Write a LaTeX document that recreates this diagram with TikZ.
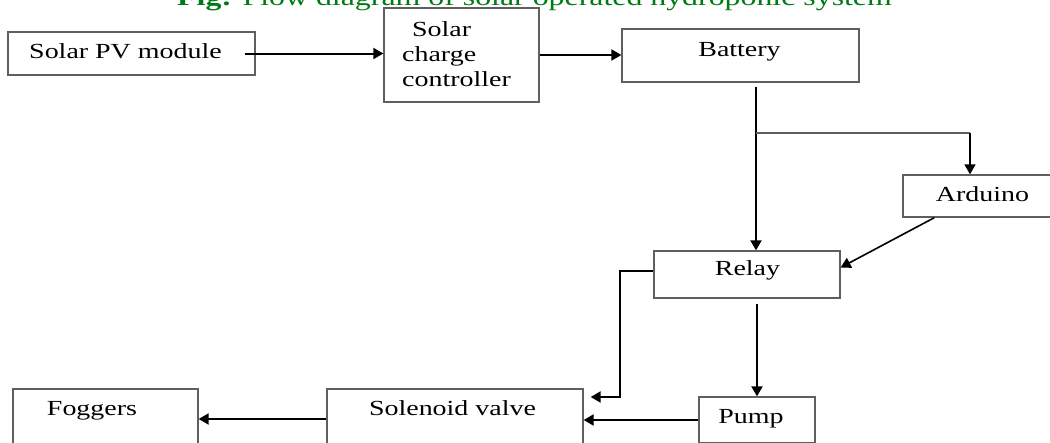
\documentclass[tikz,border=0pt]{standalone}
\usepackage{fontspec}
\setmainfont{Liberation Serif}[FakeStretch=1.3]
\usetikzlibrary{arrows.meta,positioning,calc}
\definecolor{figgreen}{RGB}{0,122,20}
\definecolor{boxline}{RGB}{95,95,95}
\tikzset{
  blk/.style={draw=boxline, line width=1.3pt, inner sep=0pt},
  txt/.style={inner sep=0pt, anchor=base, font=\fontsize{21.5}{25}\selectfont},
  arr/.style={-{Triangle[length=10pt,width=11pt]}, line width=2pt},
  branch/.style={line width=1.1pt, boxline},
}

\begin{document}
\begin{tikzpicture}[x=1pt,y=-1pt]
  \clip (0,0) rectangle (1050,442);
  % caption (cut at the top)
  \node[anchor=base west, inner sep=0pt, text=figgreen, font=\fontsize{24.5}{28}\selectfont] (title) at (177,5)
    {\textbf{Fig:} Flow diagram of solar operated hydroponic system};
  % top row
  \node[blk, minimum width=247pt, minimum height=43pt] (pv) at (131.5,53.5) {};
  \node[txt] (pvt) at (125.5,58.5) {Solar PV module};
  \node[blk, minimum width=155pt, minimum height=94pt] (ctrl) at (461.5,55) {};
  \node[txt, align=left, anchor=west] (ctrlt) at (402,54) {\hspace*{10pt}Solar\\charge\\controller};
  \node[blk, minimum width=237pt, minimum height=53pt] (bat) at (740.5,55.5) {};
  \node[txt] (batt) at (739.5,56) {Battery};
  % control side
  \node[blk, minimum width=149pt, minimum height=42pt] (ard) at (977.5,196) {};
  \node[txt] (ardt) at (982.5,201) {Arduino};
  \node[blk, minimum width=186pt, minimum height=47pt] (relay) at (747,274.5) {};
  \node[txt] (relayt) at (747.5,275) {Relay};
  % bottom row (cut at the bottom)
  \node[blk, minimum width=116pt, minimum height=46pt] (pump) at (757,420) {};
  \node[txt] (pumpt) at (751,423) {Pump};
  \node[blk, minimum width=256pt, minimum height=60pt] (sol) at (455,419) {};
  \node[txt] (solt) at (452.5,415) {Solenoid valve};
  \node[blk, minimum width=185pt, minimum height=60pt] (fog) at (105.5,419) {};
  \node[txt] (fogt) at (92,415) {Foggers};
  % connectors
  \coordinate (batout) at (756,87);
  \coordinate (tap) at (756,133);
  \coordinate (ardx) at (970,133);
  \draw[arr] ([xshift=-11pt]pv.east) -- (ctrl.west |- pv.east);
  \draw[arr] (ctrl.east) -- (bat.west |- ctrl.east);
  \draw[arr] (batout) -- (tap |- relay.north);
  \draw[branch] (tap) -- (ardx);
  \draw[arr, line width=1.6pt] (ardx) -- (ardx |- ard.north);
  \draw[arr, line width=1.6pt] ([xshift=32pt]ard.south west) -- ([yshift=7pt]relay.east);
  \draw[arr] ([yshift=4pt]relay.west) -- ++(-33,0) |- ([yshift=22pt,xshift=7pt]sol.east);
  \draw[arr] ([yshift=-5pt]relay.south -| pump.north) -- (pump.north);
  \draw[arr] (pump.west) -- (sol.east |- pump.west);
  \draw[arr] (sol.west) -- (fog.east |- sol.west);
\end{tikzpicture}
\end{document}
